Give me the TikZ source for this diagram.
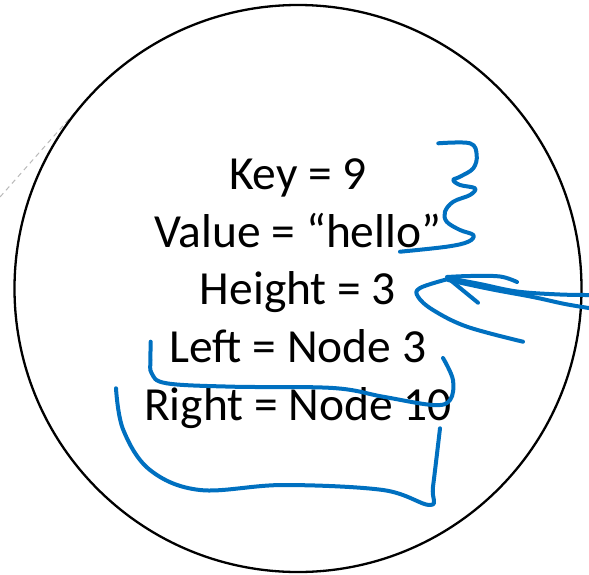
\documentclass[tikz,border=0pt]{standalone}
\usepackage{fontspec}
\setmainfont{Carlito}
\begin{document}
\begin{tikzpicture}[x=1pt,y=-1pt,
  field/.style={anchor=base,inner sep=0pt,font=\fontsize{47.5}{56}\selectfont},
  ink/.style={draw={rgb,255:red,0;green,112;blue,192},line width=4pt,line cap=round,line join=round},
  rim/.style={draw=black,line width=2.3pt}]
  \useasboundingbox (0,0) rectangle (589,574);
  % faint dashed guide behind the circle
  \draw[gray!55,dashed,line width=1pt,dash pattern=on 5pt off 4pt] (0,197) -- (92,93);
  % the tree node
  \draw[rim] (298,288.5) circle[radius=283.5];
  % node fields
  \node[field] (key)    at (298,189)   {Key = 9};
  \node[field] (value)  at (298,247)   {Value = “hello”};
  \node[field] (height) at (298,304.5) {Height = 3};
  \node[field] (left)   at (298,362)   {Left = Node 3};
  \node[field] (right)  at (298,420)   {Right = Node 10};
  % pen annotations
  \draw[ink] plot[smooth,tension=0.6] coordinates {
    (438.3,143.3) (470,143.3) (476.7,155) (473.3,168.3) (460,176.7) (453.3,180)
    (460,185) (475,188.3) (470,195) (453.3,201.7) (445,211.7) (446.7,221.7)
    (460,230) (473.3,235) (468.3,241.7) (446.7,246.7) (400,251.7)};
  \draw[ink] plot[smooth,tension=0.6] coordinates {(517,282) (500,276.5) (470,276) (447,277)};
  \draw[ink] (449,279) -- (478,302.7);
  \draw[ink] plot[smooth,tension=0.6] coordinates {(448,278) (480,284) (517,291.5) (560,294.5) (592,295)};
  \draw[ink] plot[smooth,tension=0.6] coordinates {(448,280) (490,289) (533,297) (565,304) (592,308.5)};
  \draw[ink] plot[smooth,tension=0.6] coordinates {(448,279) (420,288) (418,296.7) (433,310) (467,326.7) (523,341.7)};
  \draw[ink] plot[smooth,tension=0.6] coordinates {
    (150.7,341.7) (150.5,360) (151.7,373.3) (166.7,383.3) (233,386.7) (333,388)
    (383,396.7) (433,405) (450,400) (453,380) (443,358)};
  \draw[ink] plot[smooth,tension=0.6] coordinates {
    (116,388.3) (123.3,430) (150,470) (200,490) (283,485) (383,490) (430,505)
    (433,486.7) (440,428.3)};
\end{tikzpicture}
\end{document}
